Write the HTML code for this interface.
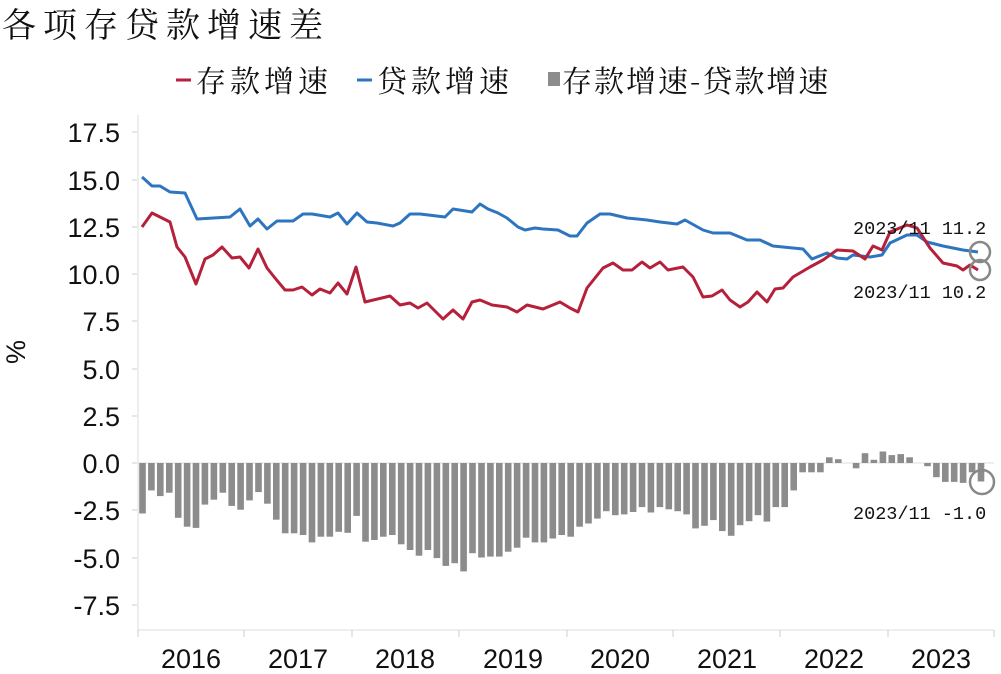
<!DOCTYPE html>
<html><head><meta charset="utf-8"><style>
body{margin:0;background:#fff;width:1001px;height:674px;overflow:hidden}
svg{display:block}
.t{font-family:"Liberation Sans",sans-serif;font-size:27px;fill:#111}
.k{font-family:"Noto Serif CJK SC","Noto Sans CJK SC",serif;fill:#111}
.a{font-family:"Liberation Mono","DejaVu Sans Mono",monospace;font-size:18.5px;fill:#111}
</style></head><body>
<svg id="s" width="1001" height="674" xmlns="http://www.w3.org/2000/svg">
<text x="2" y="37" class="k" font-size="34" letter-spacing="7">各项存贷款增速差</text>
<line x1="176" y1="80" x2="191" y2="80" stroke="#b5203a" stroke-width="3"/>
<text x="196" y="92" class="k" font-size="30" letter-spacing="4">存款增速</text>
<line x1="357" y1="80" x2="372" y2="80" stroke="#2e75c0" stroke-width="3"/>
<text x="377" y="92" class="k" font-size="30" letter-spacing="4">贷款增速</text>
<rect x="548" y="72" width="12" height="14" fill="#8c8c8c"/>
<text x="562" y="92" class="k" font-size="30" letter-spacing="2">存款增速-贷款增速</text>
<line x1="138" y1="115" x2="138" y2="630" stroke="#ddd"/>
<line x1="138" y1="630" x2="994" y2="630" stroke="#ddd"/>
<g class="t" text-anchor="end">
<text x="120" y="142">17.5</text><text x="120" y="190">15.0</text><text x="120" y="237">12.5</text>
<text x="120" y="284">10.0</text><text x="120" y="331">7.5</text><text x="120" y="379">5.0</text>
<text x="120" y="426">2.5</text><text x="120" y="473">0.0</text><text x="120" y="520">-2.5</text>
<text x="120" y="568">-5.0</text><text x="120" y="615">-7.5</text>
</g>
<g stroke="#ccc"><line x1="132" y1="132" x2="137" y2="132"/><line x1="132" y1="180" x2="137" y2="180"/><line x1="132" y1="227" x2="137" y2="227"/><line x1="132" y1="274" x2="137" y2="274"/><line x1="132" y1="321" x2="137" y2="321"/><line x1="132" y1="369" x2="137" y2="369"/><line x1="132" y1="416" x2="137" y2="416"/><line x1="132" y1="463" x2="137" y2="463"/><line x1="132" y1="510" x2="137" y2="510"/><line x1="132" y1="558" x2="137" y2="558"/><line x1="132" y1="605" x2="137" y2="605"/>
<line x1="138" y1="630" x2="138" y2="637"/><line x1="244" y1="630" x2="244" y2="637"/><line x1="352" y1="630" x2="352" y2="637"/><line x1="459" y1="630" x2="459" y2="637"/><line x1="567" y1="630" x2="567" y2="637"/><line x1="673" y1="630" x2="673" y2="637"/><line x1="780" y1="630" x2="780" y2="637"/><line x1="888" y1="630" x2="888" y2="637"/><line x1="994" y1="630" x2="994" y2="637"/></g>
<g class="t" text-anchor="middle">
<text x="191" y="668">2016</text><text x="298" y="668">2017</text><text x="405" y="668">2018</text><text x="513" y="668">2019</text><text x="620" y="668">2020</text><text x="727" y="668">2021</text><text x="834" y="668">2022</text><text x="941" y="668">2023</text>
</g>
<text class="t" font-size="20" transform="translate(25,352) rotate(-90)" text-anchor="middle">%</text>
<line x1="138" y1="463" x2="994" y2="463" stroke="#ddd"/>
<g id="bars" fill="#8c8c8c"></g>
<polyline fill="none" stroke="#2e75c0" stroke-width="3" stroke-linejoin="round" points="142,177 152,186 160,186 170,192 185,193 197,219 230,217 240,209 250,226 258,219 267,229 277,221 293,221 303,214 312,214 330,217 338,213 347,224 357,213 367,222 377,223 393,226 400,223 410,214 420,214 445,217 453,209 472,212 480,204 488,209 498,213 507,218 518,227 525,230 535,228 543,229 558,230 570,236 577,236 587,223 600,214 610,214 627,218 647,220 660,222 677,224 685,220 703,230 713,233 730,233 747,240 760,240 773,246 793,248 803,249 812,259 827,253 837,258 847,259 853,255 870,257 882,255 890,243 907,235 917,235 927,242 943,246 963,250 978,252"/>
<polyline fill="none" stroke="#b5203a" stroke-width="3" stroke-linejoin="round" points="142,227 152,213 160,217 170,222 177,247 185,257 196,284 205,259 213,255 222,247 232,258 240,257 249,268 258,249 267,268 275,278 285,290 293,290 302,287 312,295 320,289 330,293 338,283 347,294 356,267 365,302 390,296 400,305 410,303 418,308 427,303 443,319 453,310 463,319 472,302 480,300 492,305 507,307 517,312 527,305 543,309 560,302 570,308 578,312 587,288 603,268 613,263 623,270 632,270 642,262 650,268 660,262 668,270 683,267 693,277 703,297 712,296 722,290 730,300 740,307 748,302 757,292 767,302 775,289 783,288 793,277 810,267 823,260 837,250 853,251 865,259 873,246 882,250 890,232 907,225 917,228 930,248 943,263 957,266 963,270 970,265 978,270"/>
<g fill="none" stroke="#888" stroke-width="2.5"><circle cx="980" cy="252" r="10"/><circle cx="980" cy="270" r="10"/><circle cx="982" cy="482" r="12"/></g>
<text x="853" y="234" class="a">2023/11  11.2</text>
<text x="853" y="298" class="a">2023/11  10.2</text>
<text x="853" y="519" class="a">2023/11 -1.0</text>
</svg>
<script>
var d=[-2.67,-1.45,-1.75,-1.57,-2.9,-3.37,-3.43,-2.2,-1.94,-1.57,-2.27,-2.47,
-1.98,-1.54,-2.15,-3.0,-3.72,-3.72,-3.81,-4.2,-3.9,-3.9,-3.64,-3.69,
-2.8,-4.16,-4.07,-3.9,-3.81,-4.3,-4.6,-4.9,-4.6,-5.03,-5.44,-5.3,
-5.73,-4.77,-5.0,-4.95,-4.95,-4.69,-4.48,-3.95,-4.2,-4.2,-3.99,-3.81,
-3.9,-3.37,-3.2,-2.94,-2.55,-2.76,-2.72,-2.59,-2.33,-2.62,-2.33,-2.45,
-2.55,-2.72,-3.46,-3.32,-3.02,-3.6,-3.85,-3.29,-3.08,-2.76,-3.1,-2.33,
-2.33,-1.45,-0.49,-0.49,-0.49,0.3,0.2,0,-0.28,0.52,0.17,0.61,
0.42,0.47,0.3,0,-0.17,-0.75,-1.0,-1.0,-1.05,-0.49,-0.98];
var g=document.getElementById('bars'),h='';
for(var i=0;i<d.length;i++){var x=138+8.92*i+1.2,v=d[i]*18.91;
var y=v<0?463:463-v,hh=Math.abs(v);h+='<rect x="'+x.toFixed(1)+'" y="'+y.toFixed(1)+'" width="6.6" height="'+hh.toFixed(1)+'"/>';}
g.innerHTML=h;
</script>
</body></html>
